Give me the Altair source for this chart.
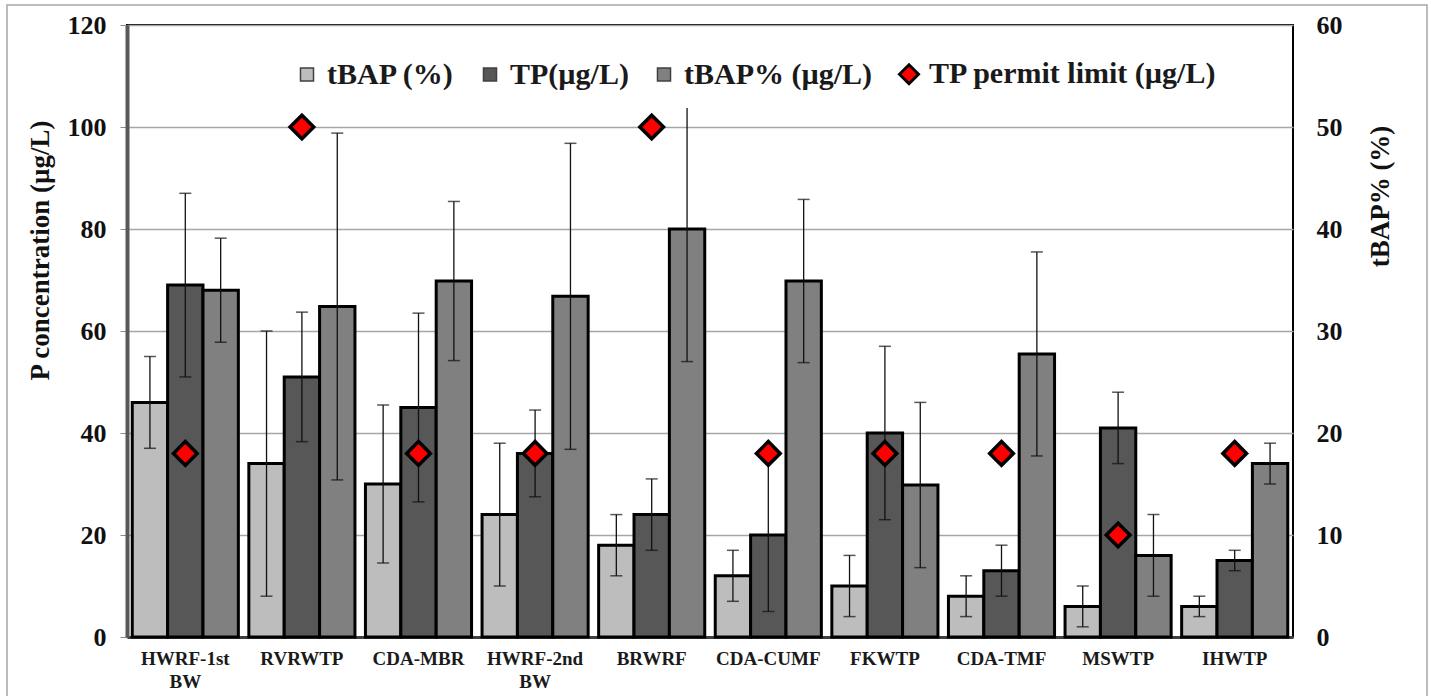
import altair as alt
import pandas as pd

sites = ["HWRF-1st BW", "RVRWTP", "CDA-MBR", "HWRF-2nd BW", "BRWRF",
         "CDA-CUMF", "FKWTP", "CDA-TMF", "MSWTP", "IHWTP"]
tbap = [46, 34, 30, 24, 18, 12, 10, 8, 6, 6]
tbap_err = [9, 26, 15.5, 14, 6, 5, 6, 4, 4, 2]
tp = [69, 51, 45, 36, 24, 20, 40, 13, 41, 15]
tp_err = [18, 12.7, 18.5, 8.5, 7, 15, 17, 5, 7, 2]
tbap_pct = [34, 32.4, 34.9, 33.4, 40, 34.9, 14.9, 27.75, 8, 17]
tbap_pct_err = [5.1, 17, 7.8, 15, 13, 8, 8.1, 10, 4, 2]
tp_limit = [36, 100, 36, 36, 100, 36, 36, 36, 20, 36]

S1 = "tBAP (%)"
S2 = "TP(µg/L)"
S3 = "tBAP% (µg/L)"
S4 = "TP permit limit (µg/L)"
series_names = [S1, S2, S3, S4]
series_colors = ["#bdbdbd", "#575757", "#808080", "#ff0000"]

FONT = "Liberation Serif"

rows_left = []
for name, vals, errs in [(S1, tbap, tbap_err), (S2, tp, tp_err)]:
    for s, v, e in zip(sites, vals, errs):
        rows_left.append({"site": s, "series": name, "slot": name, "value": v,
                          "lo": v - e, "hi": v + e})
df_left = pd.DataFrame(rows_left)

df_right = pd.DataFrame({
    "site": sites, "series": S3, "slot": S3, "value": tbap_pct,
    "lo": [v - e for v, e in zip(tbap_pct, tbap_pct_err)],
    "hi": [v + e for v, e in zip(tbap_pct, tbap_pct_err)],
})

df_limit = pd.DataFrame({"site": sites, "series": S4, "slot": S2, "limit": tp_limit})

fill_scale = alt.Scale(domain=series_names, range=series_colors)

x_enc = alt.X("site:N", sort=sites,
              scale=alt.Scale(domain=sites, paddingInner=0.09, paddingOuter=0.045),
              axis=alt.Axis(title=None, labelExpr="split(datum.label, ' ')",
                            labelFont=FONT, labelFontSize=19, labelFontWeight="bold",
                            labelColor="#1a1a1a", labelPadding=12, labelLineHeight=23,
                            labelAngle=0, ticks=False, domainColor="#404040",
                            domainWidth=3, grid=False))
xoff = alt.XOffset("slot:N", scale=alt.Scale(domain=[S1, S2, S3], paddingInner=0,
                                              paddingOuter=0))

left_axis = alt.Axis(title="P concentration (µg/L)", values=[0, 20, 40, 60, 80, 100, 120],
                     labelFont=FONT, labelFontSize=26, labelFontWeight="bold",
                     labelColor="#111111", labelPadding=14, tickSize=7,
                     tickColor="#8c8c8c", domainColor="#595959", domainWidth=4,
                     grid=True, gridColor="#a6a6a6", gridWidth=1.5,
                     titleFont=FONT, titleFontSize=27, titleFontWeight="bold",
                     titleColor="#111111", titleAngle=270, titleX=-87, titleY=225,
                     titleAlign="center", titleBaseline="middle")
left_scale = alt.Scale(domain=[0, 120], nice=False, zero=True)

right_axis = alt.Axis(title="tBAP% (%)", orient="right", offset=9,
                      values=[0, 10, 20, 30, 40, 50, 60],
                      labelFont=FONT, labelFontSize=26, labelFontWeight="bold",
                      labelColor="#111111", labelPadding=14, labelAlign="left",
                      ticks=False, domain=False, grid=False,
                      titleFont=FONT, titleFontSize=27, titleFontWeight="bold",
                      titleColor="#111111", titleAngle=270, titleX=78, titleY=171,
                      titleAlign="center", titleBaseline="middle")
right_scale = alt.Scale(domain=[0, 60], nice=False, zero=True)

is_limit = "datum.value == '" + S4 + "'"
legend = alt.Legend(
    title=None, orient="none", legendX=147, legendY=16, direction="horizontal",
    labelFont=FONT, labelFontSize=30, labelFontWeight="bold", labelColor="#1a1a1a",
    labelLimit=600, labelOffset=5, columnPadding=20,
    symbolType=alt.ExprRef(is_limit + " ? 'diamond' : 'square'"),
    symbolSize=alt.ExprRef(is_limit + " ? 360 : 170"),
    symbolStrokeColor=alt.ExprRef(is_limit + " ? '#000000' : '#404040'"),
    symbolStrokeWidth=alt.ExprRef(is_limit + " ? 3 : 1.5"),
    fillColor="white", padding=18, symbolOpacity=1,
)

frame = alt.Chart(alt.Data(values=[{"k": 1}])).mark_rect(
    fillOpacity=0, stroke="#a6a6a6", strokeWidth=1.5, clip=False
).encode(x=alt.value(-120), x2=alt.value(1300), y=alt.value(-20), y2=alt.value(690))

base_left = alt.Chart(df_left)
bars_left = base_left.mark_bar(stroke="black", strokeWidth=3).encode(
    x=x_enc, xOffset=xoff,
    y=alt.Y("value:Q", scale=left_scale, axis=left_axis),
    fill=alt.Fill("series:N", scale=fill_scale, legend=legend),
)
err_left = base_left.mark_rule(color="#111111", strokeWidth=1.3).encode(
    x=x_enc, xOffset=xoff,
    y=alt.Y("lo:Q", scale=left_scale, axis=left_axis), y2="hi:Q",
)
cap_hi_left = base_left.mark_tick(color="#111111", size=12, thickness=1.5,
                                  orient="horizontal").encode(
    x=x_enc, xOffset=xoff, y=alt.Y("hi:Q", scale=left_scale, axis=left_axis))
cap_lo_left = base_left.mark_tick(color="#111111", size=12, thickness=1.5,
                                  orient="horizontal").encode(
    x=x_enc, xOffset=xoff, y=alt.Y("lo:Q", scale=left_scale, axis=left_axis))
diamonds = alt.Chart(df_limit).mark_point(
    shape="diamond", filled=True, size=560, stroke="black", strokeWidth=3.5, opacity=1
).encode(
    x=x_enc, xOffset=xoff,
    y=alt.Y("limit:Q", scale=left_scale, axis=left_axis),
    fill=alt.Fill("series:N", scale=fill_scale, legend=None),
)

left = alt.layer(frame, bars_left, err_left, cap_hi_left, cap_lo_left, diamonds)

base_right = alt.Chart(df_right)
bars_right = base_right.mark_bar(stroke="black", strokeWidth=3).encode(
    x=x_enc, xOffset=xoff,
    y=alt.Y("value:Q", scale=right_scale, axis=right_axis),
    fill=alt.Fill("series:N", scale=fill_scale, legend=None),
)
err_right = base_right.mark_rule(color="#111111", strokeWidth=1.3).encode(
    x=x_enc, xOffset=xoff,
    y=alt.Y("lo:Q", scale=right_scale, axis=right_axis), y2="hi:Q",
)
cap_hi_right = base_right.mark_tick(color="#111111", size=12, thickness=1.5,
                                    orient="horizontal").encode(
    x=x_enc, xOffset=xoff, y=alt.Y("hi:Q", scale=right_scale, axis=right_axis))
cap_lo_right = base_right.mark_tick(color="#111111", size=12, thickness=1.5,
                                    orient="horizontal").encode(
    x=x_enc, xOffset=xoff, y=alt.Y("lo:Q", scale=right_scale, axis=right_axis))

right = alt.layer(bars_right, err_right, cap_hi_right, cap_lo_right)

chart = alt.layer(left, right).resolve_scale(y="independent").properties(
    width=1166, height=612,
    padding={"left": 127, "top": 25, "right": 138, "bottom": 59},
    autosize=alt.AutoSizeParams(type="none"),
    background="white",
).configure_view(stroke="black", strokeWidth=2)

chart.save("out.html", embed_options={"renderer": "svg", "actions": False})
